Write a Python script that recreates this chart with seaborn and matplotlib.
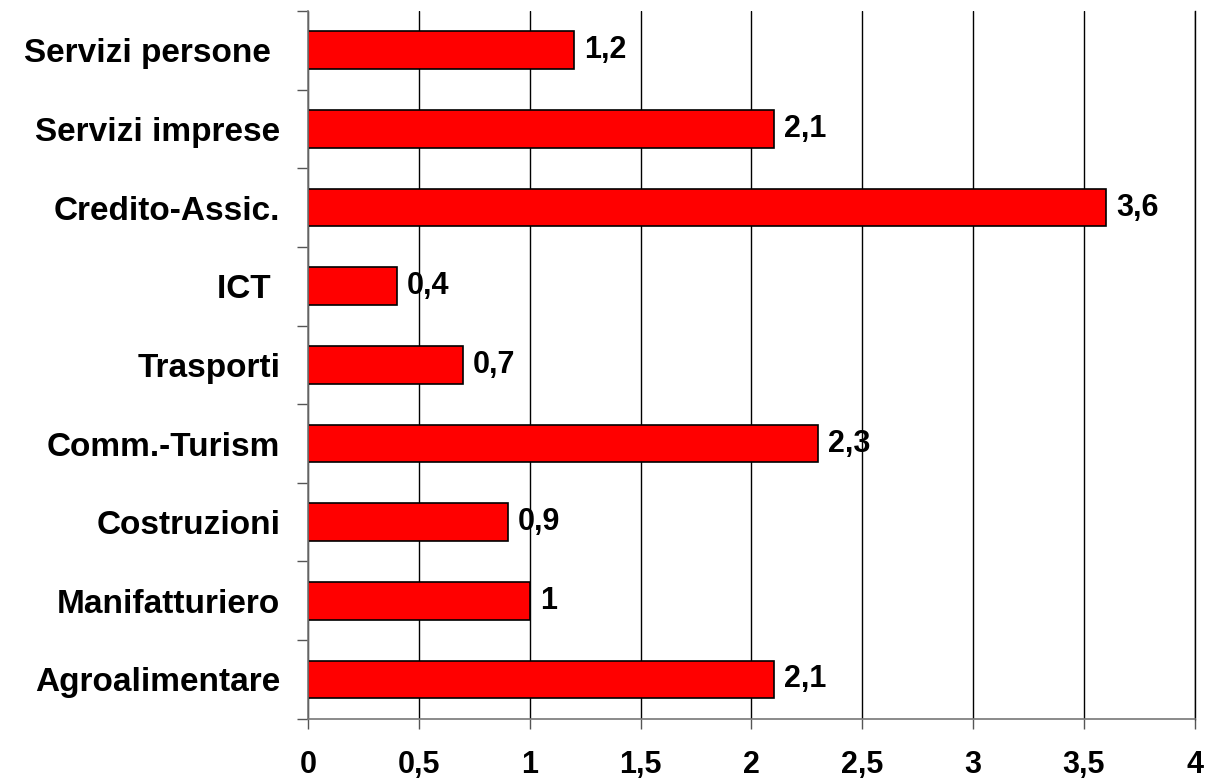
import pandas as pd
import matplotlib.pyplot as plt
import seaborn as sns
from matplotlib.ticker import MultipleLocator, FixedLocator, FuncFormatter

# Dati del grafico
settori = ['Servizi persone ', 'Servizi imprese', 'Credito-Assic.', 'ICT ', 'Trasporti',
           'Comm.-Turism', 'Costruzioni', 'Manifatturiero', 'Agroalimentare']
valori = [1.2, 2.1, 3.6, 0.4, 0.7, 2.3, 0.9, 1.0, 2.1]
etichette = ['1,2', '2,1', '3,6', '0,4', '0,7', '2,3', '0,9', '1', '2,1']

df = pd.DataFrame({'settore': settori, 'valore': valori})

sns.set_style('white')
plt.rcParams['font.family'] = ['Liberation Sans', 'DejaVu Sans']
plt.rcParams['font.weight'] = 'bold'
plt.rcParams['text.color'] = 'black'
plt.rcParams['xtick.color'] = 'black'
plt.rcParams['ytick.color'] = 'black'

fig = plt.figure(figsize=(12.08, 7.83), dpi=100)
ax = fig.add_axes([0.255, 0.082, 0.734, 0.904])

sns.barplot(data=df, x='valore', y='settore', orient='h', color='#ff0000',
            edgecolor='black', linewidth=1.2, width=0.48, saturation=1, ax=ax)

# Griglia verticale
ax.set_xlim(0, 4)
ax.set_ylim(len(settori) - 0.5, -0.5)
ax.xaxis.set_major_locator(MultipleLocator(0.5))
ax.xaxis.set_major_formatter(FuncFormatter(lambda v, p: f'{v:g}'.replace('.', ',')))
ax.grid(axis='x', color='black', linewidth=1)
ax.set_axisbelow(True)

# Tacche sull'asse y fra le categorie
ax.yaxis.set_minor_locator(FixedLocator([i - 0.5 for i in range(len(settori) + 1)]))
ax.tick_params(axis='y', which='major', length=0, pad=20, labelsize=24)
ax.tick_params(axis='y', which='minor', left=True, length=8, width=1, color='#555555')
ax.tick_params(axis='x', which='major', bottom=True, length=7, width=1, color='#555555',
               pad=32, labelsize=22)
for lab in ax.get_xticklabels():
    lab.set_verticalalignment('baseline')

ax.spines['top'].set_visible(False)
ax.spines['right'].set_color('black')
ax.spines['right'].set_linewidth(1)
for s in ['left', 'bottom']:
    ax.spines[s].set_color('#777777')
    ax.spines[s].set_linewidth(1.2)

ax.set_xlabel('')
ax.set_ylabel('')

for i, (v, t) in enumerate(zip(valori, etichette)):
    ax.text(v + 0.045, i, t, va='center', ha='left', fontsize=22, fontweight='bold')

fig.savefig('out.png', dpi=100)
